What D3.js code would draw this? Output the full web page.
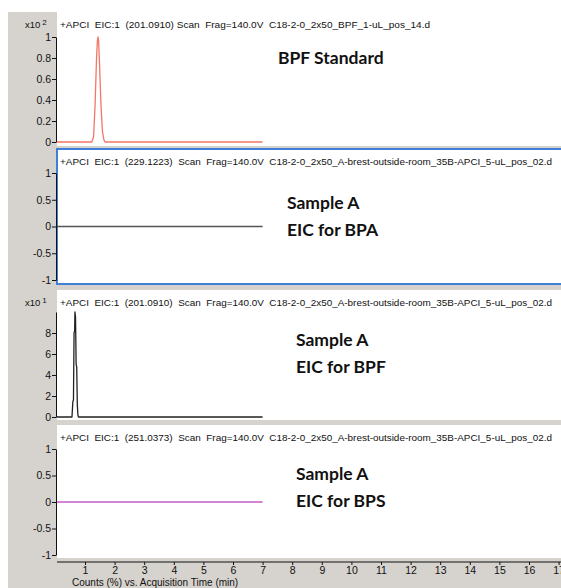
<!DOCTYPE html>
<html>
<head>
<meta charset="utf-8">
<script src="https://cdn.jsdelivr.net/npm/d3@7"></script>
<style>
  body { margin: 0; background: #fff; }
  svg { display: block; }
  .hdr { font-family: "Liberation Sans", Arial, sans-serif; font-size: 9.5px; fill: #111; white-space: pre; }
  .tick text { font-family: "Liberation Sans", Arial, sans-serif; font-size: 10.5px; fill: #111; }
  .lbl { font-family: Lato, "Open Sans", sans-serif; font-weight: bold; font-size: 17.5px; fill: #111; }
</style>
</head>
<body>
<svg id="chart" width="561" height="588"></svg>
<script>
// chromatogram data (time in min, counts in axis units)
const bpfStdTime   = [0.05, 1.23, 1.29, 1.34, 1.39, 1.42, 1.44, 1.46, 1.49, 1.54, 1.59, 1.64, 1.68, 7.0]
const bpfStdCounts = [0,    0,    0.05, 0.35, 0.80, 0.97, 1.0,  0.96, 0.75, 0.35, 0.10, 0.02, 0,    0]

const sampleBpfTime   = [0.05, 0.56, 0.59, 0.61, 0.63, 0.65, 0.66, 0.68, 0.70, 0.72, 0.74, 0.76, 0.78, 7.0]
const sampleBpfCounts = [0,    0,    1.5,  1.6,  8.0,  8.2,  10,   9.5,  5.0,  4.8,  1.2,  0.2,  0,    0]

const flatTime  = [0.05, 7.0]
const bpaCounts = [0, 0]
const bpsCounts = [0, 0]

const xTicks = d3.range(1, 18)

const headers = [
    '+APCI  EIC:1  (201.0910) Scan  Frag=140.0V  C18-2-0_2x50_BPF_1-uL_pos_14.d',
    '+APCI  EIC:1  (229.1223)  Scan  Frag=140.0V  C18-2-0_2x50_A-brest-outside-room_35B-APCI_5-uL_pos_02.d',
    '+APCI  EIC:1  (201.0910)  Scan  Frag=140.0V  C18-2-0_2x50_A-brest-outside-room_35B-APCI_5-uL_pos_02.d',
    '+APCI  EIC:1  (251.0373)  Scan  Frag=140.0V  C18-2-0_2x50_A-brest-outside-room_35B-APCI_5-uL_pos_02.d'
]
const headerWidths = [370, 492, 492, 492]

const panelLabels = [
    ['BPF Standard'],
    ['Sample A', 'EIC for BPA'],
    ['Sample A', 'EIC for BPF'],
    ['Sample A', 'EIC for BPS']
]

const yTicksStd   = [0, 0.2, 0.4, 0.6, 0.8, 1]
const yTicksFlat  = [-1, -0.5, 0, 0.5, 1]
const yTicksBpf   = [0, 2, 4, 6, 8]
const exponents   = ['2', null, '1', null]
const lineColors  = ['#f27766', '#555555', '#222222', '#c45cc4']

const svg = d3.select('#chart')
const W = 561

// plain hyphen for negatives, like the instrument software
const fmtNum = v => String(v)

// gray window background
svg.append('rect').attr('x', 8).attr('y', 12).attr('width', W).attr('height', 600).attr('fill', '#d6d3ce')

const x = d3.scaleLinear().domain([0, 17]).range([55.4, 558.6])

// panel layout: top/bottom of white area, y mapping
const panels = [
    { top: 12,  bottom: 146, y: d3.scaleLinear().domain([0, 1]).range([142, 37]),   ticks: yTicksStd,
      time: bpfStdTime, counts: bpfStdCounts, lx: 278, ly: 64 },
    { top: 149, bottom: 284, y: d3.scaleLinear().domain([-1, 1]).range([280, 173]), ticks: yTicksFlat,
      time: flatTime, counts: bpaCounts, lx: 287, ly: 209, active: true },
    { top: 290, bottom: 420, y: d3.scaleLinear().domain([0, 10]).range([417, 312]), ticks: yTicksBpf,
      time: sampleBpfTime, counts: sampleBpfCounts, lx: 296, ly: 346 },
    { top: 425, bottom: 558, y: d3.scaleLinear().domain([-1, 1]).range([555, 449]), ticks: yTicksFlat,
      time: flatTime, counts: bpsCounts, lx: 296, ly: 480 }
]

panels.forEach((p, i) => {
    const g = svg.append('g')

    g.append('rect')
        .attr('x', 57).attr('y', p.top)
        .attr('width', W - 57 + 10).attr('height', p.bottom - p.top)
        .attr('fill', '#fff')
        .attr('stroke', p.active ? '#3f7fd6' : 'none')
        .attr('stroke-width', 2)

    // y axis
    const yAxis = d3.axisLeft(p.y).tickValues(p.ticks).tickFormat(fmtNum).tickSize(4).tickSizeOuter(0)
    const ag = g.append('g').attr('transform', 'translate(56,0)').call(yAxis)
    ag.select('.domain').attr('stroke', '#111')
    ag.selectAll('.tick line').attr('stroke', '#111')
    ag.selectAll('.tick text').attr('x', -5)

    // exponent label
    if (exponents[i]) {
        const t = g.append('text').attr('class', 'hdr').attr('x', 25).attr('y', p.top + 16)
        t.append('tspan').text('x10')
        t.append('tspan').attr('dx', 2).attr('dy', -3).style('font-size', '8px').text(exponents[i])
    }

    // header
    g.append('text').attr('class', 'hdr')
        .attr('x', 60).attr('y', p.top + 16)
        .attr('textLength', headerWidths[i]).attr('lengthAdjust', 'spacingAndGlyphs')
        .text(headers[i])

    // trace
    const line = d3.line().x((d, k) => x(p.time[k])).y(d => p.y(d))
    g.append('path')
        .datum(p.counts)
        .attr('d', line)
        .attr('fill', 'none')
        .attr('stroke', lineColors[i])
        .attr('stroke-width', 1.3)
        .attr('stroke-linejoin', 'round')

    // annotation
    panelLabels[i].forEach((s, k) => {
        g.append('text').attr('class', 'lbl')
            .attr('x', p.lx).attr('y', p.ly + k * 27)
            .text(s)
    })
})

// x axis
const xg = svg.append('g').attr('transform', 'translate(0,562)')
    .call(d3.axisBottom(x).tickValues(xTicks).tickFormat(d3.format('d')).tickSize(3).tickSizeOuter(0))
xg.select('.domain').attr('stroke', '#111').attr('d', 'M57,0H561')
xg.selectAll('.tick line').attr('stroke', '#111')
xg.selectAll('.tick text').attr('y', 5)

svg.append('text').attr('class', 'hdr')
    .attr('x', 72).attr('y', 586)
    .style('font-size', '10px')
    .text('Counts (%) vs. Acquisition Time (min)')
</script>
</body>
</html>
